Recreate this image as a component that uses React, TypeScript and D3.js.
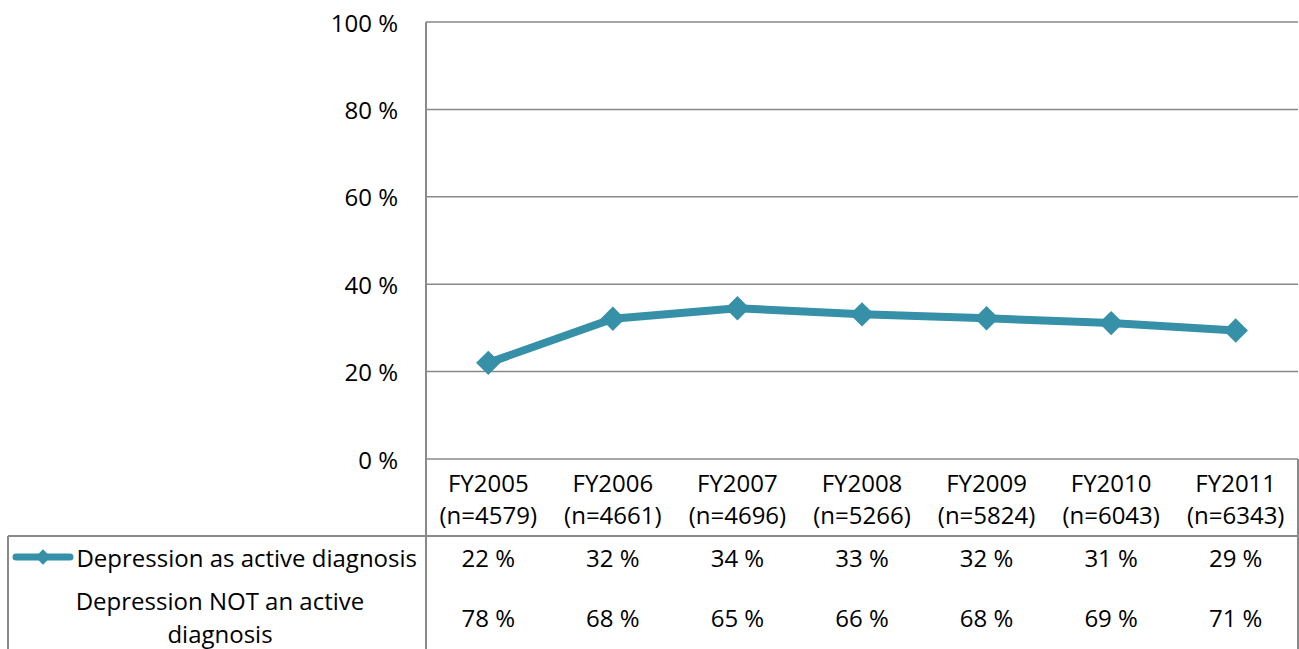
import { useEffect, useRef } from 'react';
import * as d3 from 'd3';

const categories = ['FY2005', 'FY2006', 'FY2007', 'FY2008', 'FY2009', 'FY2010', 'FY2011'];
const sampleSizes = ['(n=4579)', '(n=4661)', '(n=4696)', '(n=5266)', '(n=5824)', '(n=6043)', '(n=6343)'];
// plotted values
const activeValues = [22.0, 32.1, 34.5, 33.1, 32.2, 31.1, 29.4];
// values printed in the data table
const activeLabels = ['22 %', '32 %', '34 %', '33 %', '32 %', '31 %', '29 %'];
const notActiveLabels = ['78 %', '68 %', '65 %', '66 %', '68 %', '69 %', '71 %'];
const yTicks = [0, 20, 40, 60, 80, 100];

const SERIES_COLOR = '#3590a8';
const GRID = '#898989';
const TEXT = '#000000';
const FONT = '"Open Sans", sans-serif';
const FONT_SIZE = 24;

const W = 1299;
const H = 649;

export default function App() {
  const svgRef = useRef<SVGSVGElement>(null);

  useEffect(() => {
    document.body.style.margin = '0';
    if (!svgRef.current) return;

    const svg = d3.select(svgRef.current);
    svg.selectAll('*').remove();

    const plot = { left: 426, right: 1298, top: 22, bottom: 459 };
    const tableLeft = 8;
    const headerBottom = 536;

    const x = d3.scaleBand().domain(categories).range([plot.left, plot.right]);
    const y = d3.scaleLinear().domain([0, 100]).range([plot.bottom, plot.top]);
    const cx = (c: string) => (x(c) || 0) + x.bandwidth() / 2;

    // Grid lines
    svg.selectAll('line.grid')
      .data(yTicks)
      .join('line')
      .attr('class', 'grid')
      .attr('x1', plot.left)
      .attr('x2', plot.right)
      .attr('y1', (d) => y(d))
      .attr('y2', (d) => y(d))
      .attr('stroke', GRID)
      .attr('stroke-width', 1.5);

    // Y tick labels
    svg.selectAll('text.ytick')
      .data(yTicks)
      .join('text')
      .attr('class', 'ytick')
      .attr('x', 398)
      .attr('y', (d) => y(d))
      .attr('text-anchor', 'end')
      .attr('dominant-baseline', 'central')
      .attr('font-family', FONT)
      .attr('font-size', FONT_SIZE)
      .attr('fill', TEXT)
      .text((d) => `${d} %`);

    // Table frame
    const frame = svg.append('g').attr('stroke', GRID).attr('stroke-width', 2).attr('fill', 'none');
    frame.append('line').attr('x1', plot.left).attr('x2', plot.left).attr('y1', plot.top).attr('y2', H);
    frame.append('line').attr('x1', plot.right).attr('x2', plot.right).attr('y1', plot.bottom).attr('y2', H);
    frame.append('line').attr('x1', tableLeft).attr('x2', plot.right).attr('y1', headerBottom).attr('y2', headerBottom);
    frame.append('line').attr('x1', tableLeft).attr('x2', tableLeft).attr('y1', headerBottom).attr('y2', H);

    const textRow = (data: string[], yy: number) =>
      svg.append('g')
        .selectAll('text')
        .data(data)
        .join('text')
        .attr('x', (_, i) => cx(categories[i]))
        .attr('y', yy)
        .attr('text-anchor', 'middle')
        .attr('dominant-baseline', 'central')
        .attr('font-family', FONT)
        .attr('font-size', FONT_SIZE)
        .attr('fill', TEXT)
        .text((d) => d);

    textRow(categories, 482);
    textRow(sampleSizes, 514);
    textRow(activeLabels, 557);
    textRow(notActiveLabels, 617);

    // Row labels
    svg.append('text')
      .attr('x', 417)
      .attr('y', 557)
      .attr('text-anchor', 'end')
      .attr('dominant-baseline', 'central')
      .attr('font-family', FONT)
      .attr('font-size', FONT_SIZE)
      .attr('fill', TEXT)
      .text('Depression as active diagnosis');

    svg.selectAll('text.rowlabel2')
      .data(['Depression NOT an active', 'diagnosis'])
      .join('text')
      .attr('class', 'rowlabel2')
      .attr('x', 220)
      .attr('y', (_, i) => 600 + i * 33)
      .attr('text-anchor', 'middle')
      .attr('dominant-baseline', 'central')
      .attr('font-family', FONT)
      .attr('font-size', FONT_SIZE)
      .attr('fill', TEXT)
      .text((d) => d);

    // Legend key
    svg.append('line')
      .attr('x1', 16)
      .attr('x2', 70)
      .attr('y1', 557)
      .attr('y2', 557)
      .attr('stroke', SERIES_COLOR)
      .attr('stroke-width', 7)
      .attr('stroke-linecap', 'round');
    svg.append('path')
      .attr('d', d3.symbol(d3.symbolDiamond2, 150)())
      .attr('transform', 'translate(43,557)')
      .attr('fill', SERIES_COLOR);

    // Series line
    const line = d3
      .line<number>()
      .x((_, i) => cx(categories[i]))
      .y((d) => y(d));

    svg.append('path')
      .datum(activeValues)
      .attr('d', line)
      .attr('fill', 'none')
      .attr('stroke', SERIES_COLOR)
      .attr('stroke-width', 8)
      .attr('stroke-linejoin', 'round');

    svg.selectAll('path.marker')
      .data(activeValues)
      .join('path')
      .attr('class', 'marker')
      .attr('d', d3.symbol(d3.symbolDiamond2, 380)())
      .attr('transform', (d, i) => `translate(${cx(categories[i])},${y(d)})`)
      .attr('fill', SERIES_COLOR);
  }, []);

  return (
    <svg
      ref={svgRef}
      width={W}
      height={H}
      style={{ display: 'block', background: '#ffffff' }}
    />
  );
}
